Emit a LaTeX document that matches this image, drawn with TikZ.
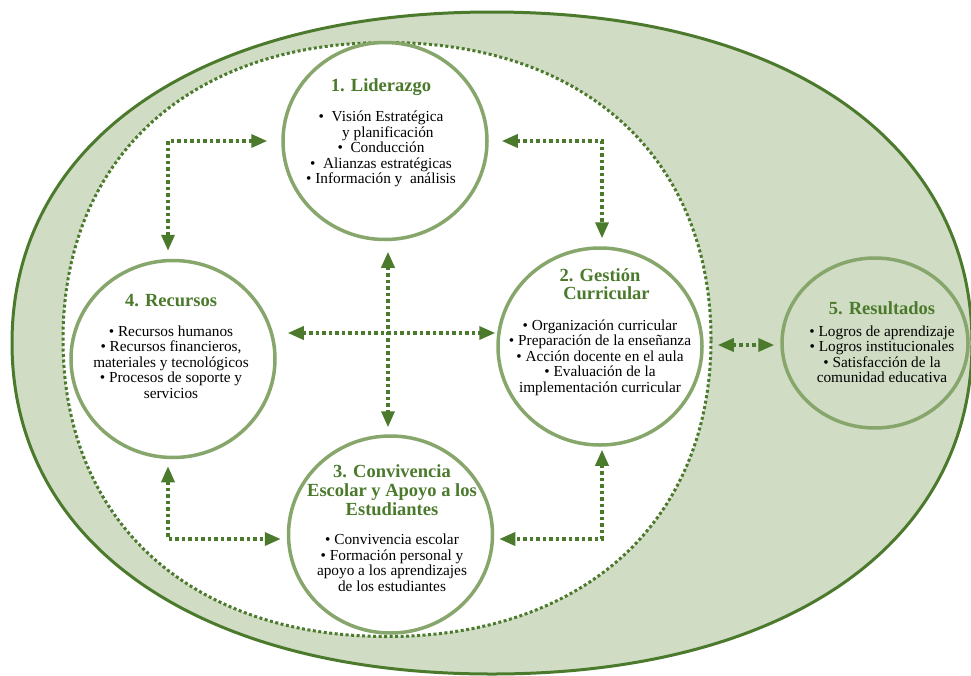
\documentclass[tikz,border=0pt]{standalone}
\usepackage{fontspec}
\setmainfont{Liberation Serif}
\usetikzlibrary{shapes.geometric, arrows.meta}
\definecolor{verdeoscuro}{HTML}{4B7A2C}
\definecolor{verdemedio}{HTML}{87A66C}
\definecolor{verdeclaro}{HTML}{D0DCC4}
\newcommand{\titulo}{\fontsize{18.5pt}{19pt}\selectfont\bfseries\color{verdeoscuro}}
\tikzstyle{circulo} = [ellipse, minimum width=204pt, minimum height=197pt, inner sep=0pt, draw=verdemedio, line width=3.5pt, fill=white]
\tikzstyle{resultado} = [circulo, minimum width=186pt, minimum height=170pt, fill=verdeclaro]
\tikzstyle{texto} = [align=center, font=\fontsize{15.3pt}{15.5pt}\selectfont, text=black, inner sep=0pt]
\tikzstyle{flecha} = [draw=verdeoscuro, line width=3.5pt, dash pattern=on 3.5pt off 3pt, >={Triangle[length=16pt,width=13pt]}, <->]

\begin{document}
\begin{tikzpicture}[x=1pt, y=1pt, node distance=200pt]
\useasboundingbox (0,0) rectangle (971,-675);
\clip (0,0) rectangle (971,-675);

\filldraw[fill=verdeclaro, draw=verdeoscuro, line width=3pt] (972,-343) .. controls (972,-141.1) and (784.8,-12) .. (492,-12) .. controls (199.2,-12) and (12,-141.1) .. (12,-343) .. controls (12,-544.9) and (199.2,-674) .. (492,-674) .. controls (784.8,-674) and (972,-544.9) .. (972,-343) -- cycle;
\filldraw[fill=white, draw=verdeoscuro, line width=3pt, dash pattern=on 3pt off 2.5pt] (711,-339.5) .. controls (711,-158.3) and (584.6,-42.5) .. (387,-42.5) .. controls (189.4,-42.5) and (63,-158.3) .. (63,-339.5) .. controls (63,-520.7) and (189.4,-636.5) .. (387,-636.5) .. controls (584.6,-636.5) and (711,-520.7) .. (711,-339.5) -- cycle;

\node (lid) [circulo] at (385,-141) {};
\node (rec) [circulo, below of=lid, xshift=-212pt, yshift=-18pt] {};
\node (ges) [circulo, below of=lid, xshift=215pt, yshift=-5.5pt] {};
\node (conv) [circulo, below of=lid, xshift=5.5pt, yshift=-193.5pt] {};
\node (res) [resultado, right of=ges, xshift=75pt, yshift=3.5pt] {};

\node (lidtxt) [texto, xshift=-4pt, yshift=8pt] at (lid) {{\titulo 1. Liderazgo}\\[14.5pt]
•\enspace Visión Estratégica\\
\hspace*{0.9em}y planificación\\
•\enspace Conducción\\
•\enspace Alianzas estratégicas\\
• Información y\ \ análisis};
\node (rectxt) [texto, xshift=-2pt, yshift=13pt] at (rec) {{\titulo 4. Recursos}\\[14.5pt]
• Recursos humanos\\
• Recursos financieros,\\
materiales y tecnológicos\\
• Procesos de soporte y\\
servicios};
\node (gestxt) [texto, yshift=14.5pt] at (ges) {{\titulo 2. Gestión}\\[2.5pt]
{\titulo\hspace*{0.7em}Curricular}\\[15.5pt]
• Organización curricular\\
• Preparación de la enseñanza\\
• Acción docente en el aula\\
• Evaluación de la\\
implementación curricular};
\node (convtxt) [texto, xshift=1.5pt, yshift=6.5pt] at (conv) {{\titulo 3. Convivencia}\\[3.5pt]
{\titulo Escolar y Apoyo a los}\\[1.5pt]
{\titulo Estudiantes}\\[13.5pt]
• Convivencia escolar\\
• Formación personal y\\
apoyo a los aprendizajes\\
de los estudiantes};
\node (restxt) [texto, xshift=7pt, yshift=1pt] at (res) {{\titulo 5. Resultados}\\[6.5pt]
• Logros de aprendizaje\\
• Logros institucionales\\
• Satisfacción de la\\
comunidad educativa};

\draw [flecha] ([xshift=-14pt]lid.west) -| ([xshift=-5pt,yshift=8pt]rec.north);
\draw [flecha] ([xshift=13pt]lid.east) -| ([xshift=2pt,yshift=8pt]ges.north);
\draw [flecha] ([xshift=-5pt,yshift=-7pt]rec.south) |- ([xshift=-6pt,yshift=-4.5pt]conv.west);
\draw [flecha] ([xshift=2pt,yshift=-3pt]ges.south) |- ([xshift=5pt,yshift=-4.5pt]conv.east);
\draw [flecha] ([xshift=11pt,yshift=26pt]rec.east) -- ([xshift=-1pt,yshift=13.5pt]ges.west);
\draw [flecha] ([xshift=3pt,yshift=-10.5pt]lid.south) -- ([xshift=-2.5pt,yshift=7pt]conv.north);
\draw [flecha] ([xshift=14pt,yshift=1.5pt]ges.east) -- ([xshift=-6pt,yshift=-2pt]res.west);

\end{tikzpicture}
\end{document}
